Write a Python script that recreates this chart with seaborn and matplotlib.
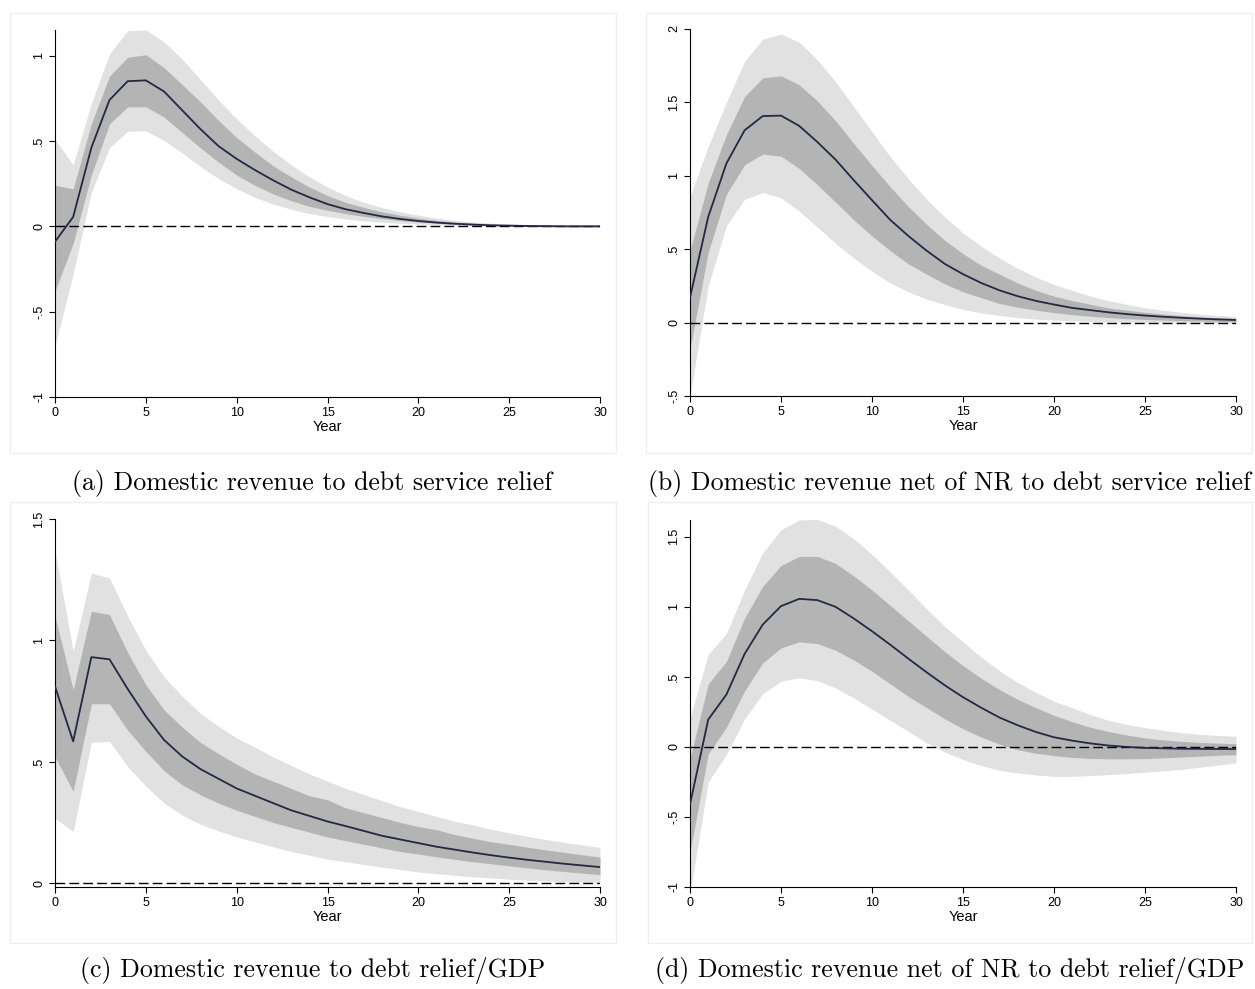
import numpy as np
import pandas as pd
import matplotlib
matplotlib.use("Agg")
import matplotlib.pyplot as plt
import seaborn as sns
from matplotlib.patches import Rectangle
from matplotlib.ticker import FixedLocator, FuncFormatter

# Horizon (years after the relief shock)
years = list(range(31))

# (a) Domestic revenue to debt service relief
a_irf = [-0.09, 0.055, 0.46, 0.74, 0.85, 0.855, 0.79, 0.68, 0.57, 0.47, 0.395, 0.33, 0.27,
         0.215, 0.17, 0.13, 0.10, 0.078, 0.058, 0.043, 0.031, 0.022, 0.015, 0.010, 0.006,
         0.004, 0.002, 0.001, 0.0, 0.0, 0.0]
a_hi68 = [0.24, 0.22, 0.60, 0.88, 0.99, 1.005, 0.93, 0.83, 0.73, 0.62, 0.52, 0.435, 0.355,
          0.29, 0.23, 0.18, 0.14, 0.11, 0.085, 0.065, 0.048, 0.035, 0.025, 0.018, 0.012,
          0.008, 0.006, 0.004, 0.003, 0.002, 0.002]
a_lo68 = [-0.38, -0.10, 0.30, 0.60, 0.70, 0.70, 0.64, 0.55, 0.46, 0.376, 0.30, 0.24, 0.19,
          0.15, 0.117, 0.094, 0.074, 0.058, 0.045, 0.034, 0.025, 0.018, 0.012, 0.008, 0.005,
          0.003, 0.001, 0.0, -0.001, -0.002, -0.002]
a_hi90 = [0.51, 0.36, 0.72, 1.01, 1.146, 1.15, 1.08, 0.98, 0.86, 0.74, 0.63, 0.53, 0.44,
          0.36, 0.29, 0.23, 0.18, 0.14, 0.11, 0.085, 0.065, 0.048, 0.035, 0.025, 0.018,
          0.012, 0.009, 0.007, 0.005, 0.004, 0.004]
a_lo90 = [-0.70, -0.28, 0.20, 0.46, 0.557, 0.56, 0.503, 0.43, 0.35, 0.28, 0.22, 0.17, 0.13,
          0.10, 0.075, 0.057, 0.043, 0.032, 0.024, 0.018, 0.013, 0.009, 0.006, 0.004, 0.002,
          0.0, -0.001, -0.002, -0.003, -0.004, -0.004]

# (b) Domestic revenue net of NR to debt service relief
b_irf = [0.17, 0.72, 1.084, 1.31, 1.407, 1.41, 1.34, 1.23, 1.11, 0.97, 0.834, 0.70, 0.59,
         0.49, 0.40, 0.33, 0.27, 0.22, 0.18, 0.148, 0.123, 0.10, 0.085, 0.07, 0.058, 0.048,
         0.04, 0.033, 0.027, 0.022, 0.018]
b_hi68 = [0.49, 0.95, 1.28, 1.54, 1.668, 1.68, 1.62, 1.51, 1.375, 1.22, 1.07, 0.925, 0.79,
          0.67, 0.56, 0.47, 0.39, 0.33, 0.27, 0.22, 0.18, 0.15, 0.125, 0.10, 0.085, 0.07,
          0.058, 0.048, 0.04, 0.033, 0.028]
b_lo68 = [-0.18, 0.48, 0.873, 1.075, 1.148, 1.134, 1.05, 0.94, 0.82, 0.70, 0.59, 0.49, 0.40,
          0.33, 0.264, 0.21, 0.17, 0.13, 0.105, 0.085, 0.068, 0.054, 0.043, 0.034, 0.027,
          0.021, 0.017, 0.013, 0.010, 0.008, 0.006]
b_hi90 = [0.857, 1.20, 1.50, 1.78, 1.93, 1.966, 1.91, 1.79, 1.64, 1.47, 1.30, 1.13, 0.98,
          0.84, 0.72, 0.61, 0.52, 0.44, 0.37, 0.31, 0.26, 0.22, 0.18, 0.15, 0.125, 0.10,
          0.085, 0.07, 0.058, 0.048, 0.04]
b_lo90 = [-0.50, 0.25, 0.66, 0.84, 0.886, 0.85, 0.76, 0.65, 0.54, 0.44, 0.35, 0.27, 0.21,
          0.16, 0.123, 0.09, 0.066, 0.048, 0.034, 0.024, 0.017, 0.012, 0.008, 0.005, 0.003,
          0.002, 0.001, 0.0, -0.002, -0.003, -0.004]

# (c) Domestic revenue to debt relief/GDP
c_irf = [0.81, 0.584, 0.931, 0.922, 0.80, 0.687, 0.59, 0.522, 0.47, 0.43, 0.39, 0.36, 0.33,
         0.30, 0.277, 0.254, 0.235, 0.215, 0.195, 0.18, 0.165, 0.15, 0.138, 0.126, 0.115,
         0.105, 0.096, 0.088, 0.08, 0.073, 0.066]
c_hi68 = [1.10, 0.797, 1.12, 1.106, 0.95, 0.817, 0.714, 0.643, 0.58, 0.533, 0.49, 0.45, 0.42,
          0.39, 0.36, 0.343, 0.31, 0.29, 0.27, 0.25, 0.233, 0.22, 0.20, 0.185, 0.17, 0.16,
          0.148, 0.137, 0.127, 0.117, 0.107]
c_lo68 = [0.52, 0.378, 0.739, 0.739, 0.63, 0.543, 0.463, 0.405, 0.364, 0.33, 0.30, 0.275,
          0.25, 0.23, 0.21, 0.19, 0.175, 0.16, 0.145, 0.13, 0.12, 0.108, 0.098, 0.088, 0.08,
          0.071, 0.063, 0.055, 0.048, 0.041, 0.035]
c_hi90 = [1.37, 0.955, 1.277, 1.257, 1.10, 0.96, 0.85, 0.77, 0.70, 0.646, 0.598, 0.56, 0.52,
          0.485, 0.45, 0.42, 0.39, 0.365, 0.34, 0.315, 0.295, 0.275, 0.255, 0.24, 0.222,
          0.207, 0.193, 0.18, 0.168, 0.157, 0.147]
c_lo90 = [0.268, 0.213, 0.58, 0.584, 0.48, 0.40, 0.33, 0.28, 0.243, 0.215, 0.19, 0.17, 0.15,
          0.13, 0.115, 0.099, 0.088, 0.077, 0.066, 0.056, 0.046, 0.039, 0.032, 0.026, 0.021,
          0.016, 0.012, 0.009, 0.006, 0.004, 0.002]

# (d) Domestic revenue net of NR to debt relief/GDP
d_irf = [-0.41, 0.195, 0.374, 0.664, 0.874, 1.005, 1.057, 1.048, 1.0, 0.917, 0.826, 0.73,
         0.63, 0.533, 0.44, 0.355, 0.28, 0.21, 0.155, 0.107, 0.069, 0.045, 0.025, 0.01, 0.0,
         -0.007, -0.01, -0.013, -0.014, -0.015, -0.015]
d_hi68 = [-0.08, 0.45, 0.61, 0.92, 1.147, 1.295, 1.36, 1.36, 1.31, 1.22, 1.12, 1.01, 0.90,
          0.79, 0.68, 0.58, 0.49, 0.41, 0.34, 0.28, 0.226, 0.18, 0.14, 0.11, 0.085, 0.064,
          0.05, 0.04, 0.032, 0.027, 0.023]
d_lo68 = [-0.75, -0.05, 0.14, 0.40, 0.60, 0.707, 0.75, 0.738, 0.69, 0.62, 0.54, 0.45, 0.36,
          0.28, 0.20, 0.13, 0.07, 0.02, -0.02, -0.045, -0.062, -0.075, -0.082, -0.085, -0.085,
          -0.083, -0.078, -0.072, -0.066, -0.06, -0.055]
d_hi90 = [0.207, 0.66, 0.81, 1.12, 1.385, 1.55, 1.62, 1.624, 1.576, 1.486, 1.374, 1.25, 1.12,
          0.986, 0.86, 0.75, 0.64, 0.545, 0.46, 0.39, 0.326, 0.28, 0.23, 0.19, 0.16, 0.138,
          0.118, 0.102, 0.09, 0.082, 0.076]
d_lo90 = [-1.05, -0.25, -0.055, 0.20, 0.38, 0.47, 0.493, 0.474, 0.42, 0.35, 0.27, 0.19, 0.11,
          0.03, -0.036, -0.09, -0.133, -0.167, -0.186, -0.20, -0.21, -0.21, -0.205, -0.198,
          -0.19, -0.18, -0.17, -0.16, -0.145, -0.13, -0.114]

captions = [
    "(a) Domestic revenue to debt service relief",
    "(b) Domestic revenue net of NR to debt service relief",
    "(c) Domestic revenue to debt relief/GDP",
    "(d) Domestic revenue net of NR to debt relief/GDP",
]
y_ticks = [
    [-1, -0.5, 0, 0.5, 1],
    [-0.5, 0, 0.5, 1, 1.5, 2],
    [0, 0.5, 1, 1.5],
    [-1, -0.5, 0, 0.5, 1, 1.5],
]
y_limits = [(-1, 1.15), (-0.5, 2.0), (-0.016, 1.5), (-1, 1.62)]
x_ticks = [0, 5, 10, 15, 20, 25, 30]

panels = [
    (a_irf, a_lo68, a_hi68, a_lo90, a_hi90),
    (b_irf, b_lo68, b_hi68, b_lo90, b_hi90),
    (c_irf, c_lo68, c_hi68, c_lo90, c_hi90),
    (d_irf, d_lo68, d_hi68, d_lo90, d_hi90),
]

sns.set_theme(style="ticks")
plt.rcParams["font.family"] = ["Liberation Sans", "DejaVu Sans"]

W, H = 1255, 989
fig = plt.figure(figsize=(W / 100, H / 100), dpi=100)

# axes boxes in pixels: (left, top, right, bottom)
boxes = [
    (55, 30, 600, 397),
    (690, 29, 1236, 396),
    (55, 519, 600, 887),
    (690, 520, 1236, 887),
]
# light frames around each graph region
frames = [
    (10, 13, 616, 453),
    (646, 13, 1252, 453),
    (10, 502, 616, 943),
    (648, 502, 1252, 943),
]
caption_pos = [(312, 484), (950, 484), (313, 971), (950, 971)]

LIGHT = "#e1e1e1"
DARK = "#b4b4b4"
LINE = "#262646"


def fmt_num(v, _pos=None):
    if abs(v) < 1e-9:
        return "0"
    s = ("%g" % v)
    if s.startswith("0."):
        s = s[1:]
    elif s.startswith("-0."):
        s = "-" + s[2:]
    return s


for i, (irf, lo68, hi68, lo90, hi90) in enumerate(panels):
    fl, ft, fr, fb = frames[i]
    fig.patches.append(Rectangle((fl / W, 1 - fb / H), (fr - fl) / W, (fb - ft) / H,
                                 transform=fig.transFigure, facecolor="none",
                                 edgecolor="#eeeeee", linewidth=0.9, zorder=0))
    l, t, r, b = boxes[i]
    ax = fig.add_axes([l / W, 1 - b / H, (r - l) / W, (b - t) / H])
    df = pd.DataFrame({"Year": years, "irf": irf, "lo68": lo68, "hi68": hi68,
                       "lo90": lo90, "hi90": hi90})
    ax.fill_between(df["Year"], df["lo90"], df["hi90"], color=LIGHT, linewidth=0, zorder=1)
    ax.fill_between(df["Year"], df["lo68"], df["hi68"], color=DARK, linewidth=0, zorder=2)
    ax.axhline(0, color="black", linewidth=1.0, linestyle=(0, (7, 3)), zorder=3)
    sns.lineplot(data=df, x="Year", y="irf", ax=ax, color=LINE, linewidth=1.3, zorder=4)

    ax.set_xlim(0, 30)
    ax.set_ylim(*y_limits[i])
    ax.xaxis.set_major_locator(FixedLocator(x_ticks))
    ax.yaxis.set_major_locator(FixedLocator(y_ticks[i]))
    ax.yaxis.set_major_formatter(FuncFormatter(fmt_num))
    ax.set_xlabel("Year", fontsize=10.5, labelpad=1, color="black")
    ax.set_ylabel("")
    ax.tick_params(axis="both", direction="out", length=4.5, width=0.8, color="black",
                   labelcolor="black", labelsize=9, pad=2.5)
    ax.tick_params(axis="y", labelrotation=90)
    for lab in ax.get_yticklabels():
        lab.set_verticalalignment("center")
    sns.despine(ax=ax)
    for side in ("left", "bottom"):
        ax.spines[side].set_linewidth(0.8)
        ax.spines[side].set_color("black")
    ax.set_facecolor("white")

    cx, cy = caption_pos[i]
    fig.text(cx / W, 1 - cy / H, captions[i], family="cmr10", fontsize=18.6,
             ha="center", va="center", color="black")

fig.savefig("out.png", dpi=100, facecolor="white")
